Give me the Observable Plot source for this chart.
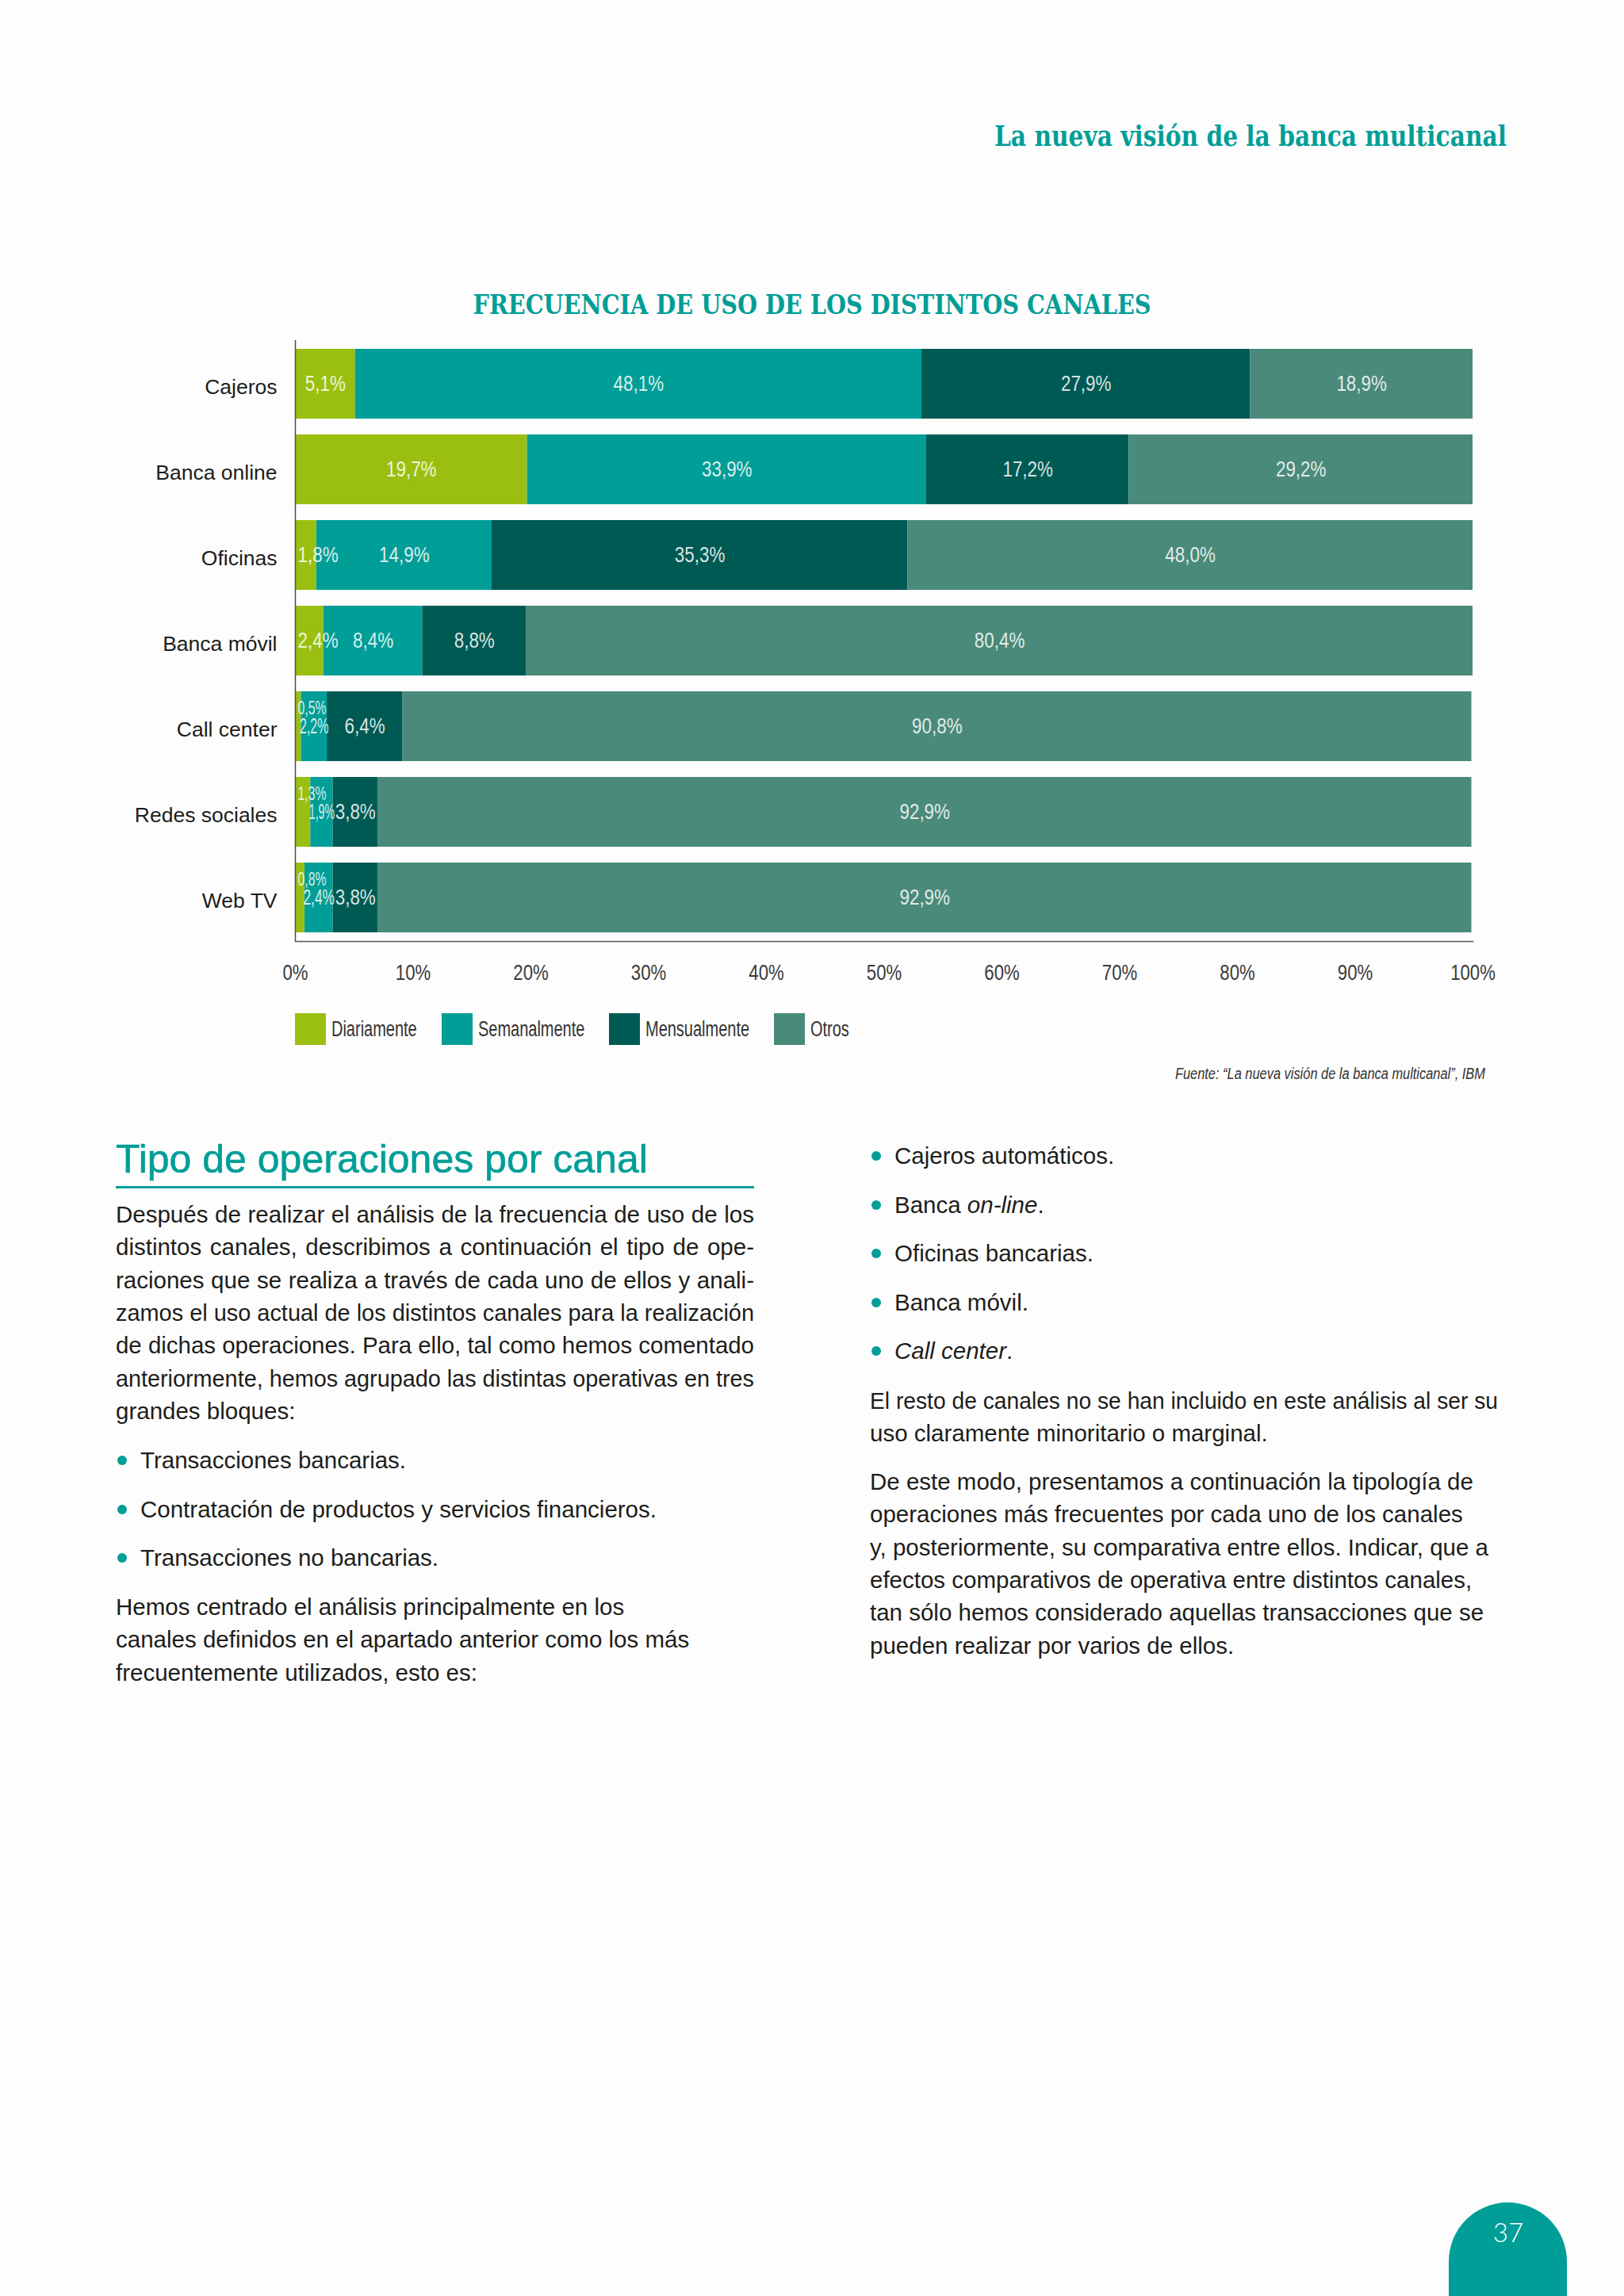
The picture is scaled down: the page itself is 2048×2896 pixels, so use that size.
<!DOCTYPE html>
<html lang="es">
<head>
<meta charset="utf-8">
<script src="https://cdn.jsdelivr.net/npm/d3@7"></script>
<script src="https://cdn.jsdelivr.net/npm/@observablehq/plot@0.6"></script>
<style>
  html, body { margin: 0; padding: 0; }
  body { width: 2048px; height: 2896px; position: relative; background: #fdfdfd; overflow: hidden; }
  .t { position: absolute; white-space: nowrap; }
  #chart { position: absolute; left: 0; top: 400px; }
  .sw { position: absolute; width: 39px; height: 40px; }
  #tab { position: absolute; left: 1827px; top: 2778px; width: 149px; height: 118px; background: #009e97; border-radius: 74.5px 74.5px 0 0; }
</style>
</head>
<body>
<div id="chart"></div>
<div id="tab"></div>
<script>
// ---------- DATA ----------
const canales = ["Cajeros", "Banca online", "Oficinas", "Banca móvil", "Call center", "Redes sociales", "Web TV"];
const frecuencias = ["Diariamente", "Semanalmente", "Mensualmente", "Otros"];
const diariamente  = [5.1, 19.7, 1.8, 2.4, 0.5, 1.3, 0.8];
const semanalmente = [48.1, 33.9, 14.9, 8.4, 2.2, 1.9, 2.4];
const mensualmente = [27.9, 17.2, 35.3, 8.8, 6.4, 3.8, 3.8];
const otros        = [18.9, 29.2, 48.0, 80.4, 90.8, 92.9, 92.9];
const xTicks = [0, 10, 20, 30, 40, 50, 60, 70, 80, 90, 100];

const colores = ["#9bbf10", "#009e97", "#005a54", "#4a8a7a"];
const teal = "#009e97";
const ink = "#1d1d1b";
const series = [diariamente, semanalmente, mensualmente, otros];
const CONDENSE = 0.8; // horizontal squeeze to mimic a condensed face

// ---------- CHART ----------
const rows = [];
canales.forEach((canal, i) => {
  let acc = 0;
  series.forEach((s, j) => {
    const v = s[i];
    rows.push({canal, frecuencia: frecuencias[j], value: v, x1: acc, x2: acc + v, mid: acc + v / 2, serie: j, idx: i});
    acc += v;
  });
});
// label placement rule: a too-narrow first segment is left-aligned; raised if the next one is narrow too
const narrow = v => v < 3.3;
rows.forEach(r => {
  if (r.serie === 0 && narrow(r.value)) r.kind = narrow(semanalmente[r.idx]) ? "raised" : "start";
  else r.kind = "center";
});
const fmt = r => r.value.toFixed(1).replace(".", ",") + "%";
const SANS = "'Liberation Sans', Arial, sans-serif";
const groups = {
  center: rows.filter(r => r.kind === "center"),
  start: rows.filter(r => r.kind === "start"),
  raised: rows.filter(r => r.kind === "raised")
};

const chart = Plot.plot({
  width: 2048,
  height: 860,
  marginTop: 29,
  marginBottom: 73,
  marginLeft: 372,
  marginRight: 191,
  style: {background: "transparent", fontFamily: SANS, overflow: "visible"},
  x: {domain: [0, 100]},
  y: {domain: canales, paddingInner: 0.185, paddingOuter: 0.0926},
  color: {domain: frecuencias, range: colores},
  marks: [
    Plot.barX(rows, {x1: "x1", x2: "x2", y: "canal", fill: "frecuencia"}),
    Plot.text(groups.center, {x: "mid", y: "canal", text: fmt, fill: "white", fillOpacity: 0.85, fontSize: 28}),
    Plot.text(groups.start, {x: "x1", y: "canal", text: fmt, textAnchor: "start", dx: 3, fill: "white", fillOpacity: 0.85, fontSize: 28}),
    Plot.text(groups.raised, {x: "x1", y: "canal", text: fmt, textAnchor: "start", dx: 3, dy: -23, fill: "white", fillOpacity: 0.85, fontSize: 23}),
    Plot.ruleX([0], {stroke: "#4d4d4d", strokeWidth: 1.5}),
    Plot.frame({anchor: "bottom", stroke: "#555", strokeWidth: 1.5}),
    Plot.axisY({tickSize: 0, tickPadding: 23, fontSize: 26.5, fill: ink, label: null, dy: 4}),
    Plot.axisX({ticks: xTicks, tickFormat: d => d + "%", tickSize: 0, tickPadding: 29, fontSize: 27, fill: "#3a3a3a", label: null})
  ]
});
document.getElementById("chart").appendChild(chart);

// condense label glyphs (textLength), squeezing the tiny ones to their segment
const xs = chart.scale("x");
const px = v => xs.apply(v) - xs.apply(0);
function squeeze(el, maxW, k) {
  const nat = el.getComputedTextLength();
  const w = Math.min(nat * k, maxW);
  el.setAttribute("textLength", w.toFixed(2));
  el.setAttribute("lengthAdjust", "spacingAndGlyphs");
}
const textGroups = chart.querySelectorAll('g[aria-label="text"]');
[["center", textGroups[0]], ["start", textGroups[1]], ["raised", textGroups[2]]].forEach(([key, g]) => {
  if (!g) return;
  const els = g.querySelectorAll("text");
  els.forEach((el, i) => {
    const r = groups[key][i];
    let maxW = Infinity;
    if (key === "center") maxW = px(r.value) + 4;
    if (key === "raised") maxW = 36;
    squeeze(el, maxW, CONDENSE);
  });
});
chart.querySelectorAll('g[aria-label="x-axis tick label"] text').forEach(el => squeeze(el, Infinity, 0.82));

// ---------- PAGE TEXT ----------
const SERIF = "'DejaVu Serif', serif";
function put(html, o) {
  const d = document.createElement("div");
  d.className = "t";
  d.innerHTML = html;
  const size = o.size;
  d.style.fontSize = size + "px";
  d.style.lineHeight = size + "px";
  d.style.fontFamily = o.family || SANS;
  d.style.color = o.color || ink;
  if (o.weight) d.style.fontWeight = o.weight;
  if (o.italic) d.style.fontStyle = "italic";
  if (o.stroke) d.style.webkitTextStroke = o.stroke;
  d.style.top = (o.base - 0.846 * size) + "px";
  document.body.appendChild(d);
  const w = d.getBoundingClientRect().width;
  const anchor = o.anchor || "start";
  let k = 1;
  if (o.fit) k = o.fit / w;
  else if (o.condense) k = o.condense;
  const vis = w * k;
  if (anchor === "start") d.style.left = o.x + "px";
  else if (anchor === "end") d.style.left = (o.x - w) + "px";
  else d.style.left = (o.x - w / 2) + "px";
  if (k !== 1) {
    d.style.transformOrigin = anchor === "end" ? "right center" : anchor === "middle" ? "center center" : "left center";
    d.style.transform = `scaleX(${k})`;
  }
  if (o.justify) {
    const n = (d.textContent.match(/ /g) || []).length;
    if (w < o.justify && n) d.style.wordSpacing = ((o.justify - w) / n) + "px";
    else if (w > o.justify) { d.style.transformOrigin = "left center"; d.style.transform = `scaleX(${o.justify / w})`; }
  }
  d.visibleWidth = vis;
  return d;
}

// legend (condensed labels, laid out left to right)
let lx = 372;
frecuencias.forEach((f, j) => {
  const sw = document.createElement("div");
  sw.className = "sw";
  sw.style.left = lx + "px";
  sw.style.top = "1278px";
  sw.style.background = colores[j];
  document.body.appendChild(sw);
  const t = put(f, {x: lx + 46, base: 1308, size: 27, color: "#333", condense: 0.74});
  lx = lx + 46 + t.visibleWidth + 31;
});

// header and chart title
put("La nueva visión de la banca multicanal", {x: 1900, base: 184, size: 35, family: SERIF, weight: "bold", color: teal, anchor: "end", fit: 646});
put("FRECUENCIA DE USO DE LOS DISTINTOS CANALES", {x: 1024, base: 396, size: 34, family: SERIF, weight: "bold", color: teal, anchor: "middle", fit: 855});
put("Fuente: “La nueva visión de la banca multicanal”, IBM", {x: 1873, base: 1361, size: 20, italic: true, color: "#333", anchor: "end", fit: 391});

// section heading
put("Tipo de operaciones por canal", {x: 146, base: 1479, size: 50, color: teal, stroke: "0.6px " + teal});
const rule = document.createElement("div");
rule.style.cssText = `position:absolute;left:146px;top:1496px;width:805px;height:3px;background:${teal}`;
document.body.appendChild(rule);

const B = 29.5, LH = 41.3;
const leftPara = [
  "Después de realizar el análisis de la frecuencia de uso de los",
  "distintos canales, describimos a continuación el tipo de ope-",
  "raciones que se realiza a través de cada uno de ellos y anali-",
  "zamos el uso actual de los distintos canales para la realización",
  "de dichas operaciones. Para ello, tal como hemos comentado",
  "anteriormente, hemos agrupado las distintas operativas en tres",
  "grandes bloques:"
];
leftPara.forEach((l, i) => put(l, {x: 146, base: 1542 + i * LH, size: B, justify: i < leftPara.length - 1 ? 805 : null}));

function bullet(html, colX, base) {
  const dot = document.createElement("div");
  dot.style.cssText = `position:absolute;left:${colX + 2}px;top:${base - 16}px;width:12px;height:12px;border-radius:6px;background:${teal}`;
  document.body.appendChild(dot);
  put(html, {x: colX + 31, base, size: B});
}
const leftBullets = ["Transacciones bancarias.", "Contratación de productos y servicios financieros.", "Transacciones no bancarias."];
leftBullets.forEach((b, i) => bullet(b, 146, 1852 + i * 61.5));

const leftPara2 = [
  "Hemos centrado el análisis principalmente en los",
  "canales definidos en el apartado anterior como los más",
  "frecuentemente utilizados, esto es:"
];
leftPara2.forEach((l, i) => put(l, {x: 146, base: 2037 + i * LH, size: B}));

const rightBullets = ["Cajeros automáticos.", "Banca <i>on-line</i>.", "Oficinas bancarias.", "Banca móvil.", "<i>Call center</i>."];
rightBullets.forEach((b, i) => bullet(b, 1097, 1468 + i * 61.6));

const rightPara1 = [
  "El resto de canales no se han incluido en este análisis al ser su",
  "uso claramente minoritario o marginal."
];
rightPara1.forEach((l, i) => put(l, {x: 1097, base: 1777 + i * LH, size: B, justify: i === 0 ? 792 : null}));

const rightPara2 = [
  "De este modo, presentamos a continuación la tipología de",
  "operaciones más frecuentes por cada uno de los canales",
  "y, posteriormente, su comparativa entre ellos. Indicar, que a",
  "efectos comparativos de operativa entre distintos canales,",
  "tan sólo hemos considerado aquellas transacciones que se",
  "pueden realizar por varios de ellos."
];
rightPara2.forEach((l, i) => put(l, {x: 1097, base: 1879 + i * LH, size: B}));

// page number
put("37", {x: 1902, base: 2827, size: 33, family: "Lato, 'Liberation Sans', sans-serif", weight: 300, color: "#ffffff", anchor: "middle"});
</script>
</body>
</html>
